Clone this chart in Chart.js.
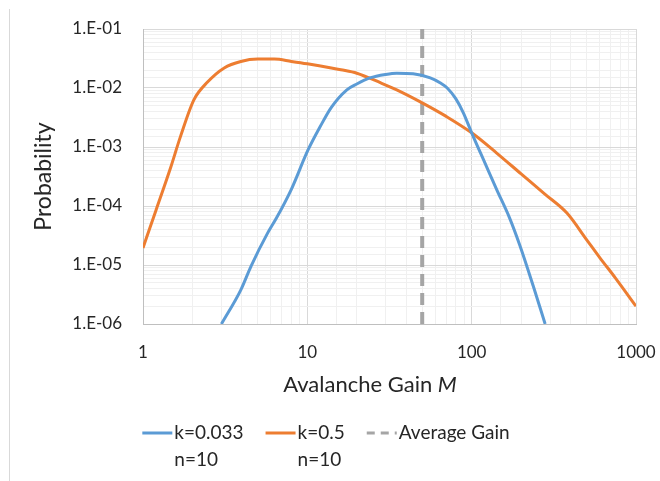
<!DOCTYPE html>
<html>
<head>
<meta charset="utf-8">
<script src="https://cdn.jsdelivr.net/npm/chart.js@4"></script>
<style>
  html, body { margin: 0; padding: 0; background: #fff; }
  #wrap { position: relative; width: 660px; height: 481px; }
  #wrap:before { content: ''; position: absolute; left: 9px; top: 9px; bottom: 0; width: 1px; background: #d9d9d9; }
</style>
</head>
<body>
<div id="wrap"><canvas id="chart" width="660" height="481"></canvas></div>
<script>
// k=0.033, n=10
const gainA = [3.0, 3.94, 4.54, 5.74, 6.5, 7.98, 10.1, 12, 14, 17.4, 20, 24, 30, 35, 44, 56, 65, 71, 80, 89, 100, 120, 142, 170, 197, 237, 280];
const probA = [1.0e-6, 3.8e-6, 9.5e-6, 3.5e-5, 6.3e-5, 1.9e-4, 8.9e-4, 2.24e-3, 4.7e-3, 9.3e-3, 1.17e-2, 1.48e-2, 1.70e-2, 1.78e-2, 1.74e-2, 1.48e-2, 1.20e-2, 1.0e-2, 6.6e-3, 3.8e-3, 1.74e-3, 5.5e-4, 1.9e-4, 6.3e-5, 2.1e-5, 4.4e-6, 1.0e-6];

// k=0.5, n=10
const gainB = [1, 1.2, 1.47, 1.69, 2.04, 2.47, 3.12, 3.94, 5.0, 6.3, 8.0, 10, 14, 16, 20, 28, 35, 50, 70, 100, 142, 200, 280, 380, 500, 600, 750, 1000];
const probB = [1.95e-5, 8.5e-5, 4.4e-4, 1.5e-3, 6.3e-3, 1.26e-2, 2.19e-2, 2.82e-2, 3.09e-2, 3.09e-2, 2.82e-2, 2.57e-2, 2.19e-2, 2.04e-2, 1.78e-2, 1.22e-2, 9.3e-3, 5.6e-3, 3.3e-3, 1.74e-3, 7.9e-4, 3.5e-4, 1.58e-4, 7.6e-5, 2.7e-5, 1.35e-5, 6.0e-6, 2.0e-6];

// average gain marker
const avgGain = 50;

const xRange = [1, 1000];
const yRange = [1e-6, 1e-1];

const legendLabels = [['k=0.033', 'n=10'], ['k=0.5', 'n=10'], ['Average Gain']];

const blue = '#5B9BD5';
const orange = '#ED7D31';
const gray = '#A5A5A5';
const textColor = '#262626';
const fontName = 'Lato, "Open Sans", sans-serif';

function pts(xs, ys) {
    return xs.map((x, i) => ({ x: x, y: ys[i] }));
}

function isDecade(v) {
    const l = Math.log10(v);
    return Math.abs(l - Math.round(l)) < 1e-6;
}

function gridColor(c) {
    if (!c.tick) return '#f0f0f0';
    return isDecade(c.tick.value) ? '#d9d9d9' : '#f0f0f0';
}

// x title (with italic M) and the two-line legend
const extras = {
    id: 'extras',
    afterDraw(chart) {
        const ctx = chart.ctx;
        ctx.save();
        ctx.fillStyle = textColor;
        ctx.textBaseline = 'middle';

        // axis title
        const normal = '22px ' + fontName;
        const italic = 'italic 22px ' + fontName;
        ctx.font = normal;
        const w1 = ctx.measureText('Avalanche Gain ').width;
        ctx.font = italic;
        const w2 = ctx.measureText('M').width;
        let tx = 370 - (w1 + w2) / 2;
        ctx.textAlign = 'left';
        ctx.font = normal;
        ctx.fillText('Avalanche Gain ', tx, 385);
        ctx.font = italic;
        ctx.fillText('M', tx + w1, 385);

        // legend
        ctx.font = '19px ' + fontName;
        const sample = 30, gap = 2, space = 22;
        const styles = [
            { color: blue, dash: [] },
            { color: orange, dash: [] },
            { color: gray, dash: [8, 6] }
        ];
        const widths = legendLabels.map(lines => Math.max(...lines.map(t => ctx.measureText(t).width)));
        let total = 0;
        widths.forEach((w, i) => { total += sample + gap + w + (i < widths.length - 1 ? space : 0); });
        let x = 326 - total / 2;
        const row1 = 433, rowH = 27;
        legendLabels.forEach((lines, i) => {
            ctx.strokeStyle = styles[i].color;
            ctx.lineWidth = 3;
            ctx.setLineDash(styles[i].dash);
            ctx.beginPath();
            ctx.moveTo(x, row1);
            ctx.lineTo(x + sample, row1);
            ctx.stroke();
            ctx.setLineDash([]);
            lines.forEach((t, j) => ctx.fillText(t, x + sample + gap, row1 + j * rowH));
            x += sample + gap + widths[i] + space;
        });
        ctx.restore();
    }
};

new Chart(document.getElementById('chart'), {
    type: 'scatter',
    data: {
        datasets: [
            {
                label: 'k=0.033 n=10',
                data: pts(gainA, probA),
                borderColor: blue,
                borderWidth: 3,
                showLine: true,
                pointRadius: 0,
                cubicInterpolationMode: 'monotone'
            },
            {
                label: 'k=0.5 n=10',
                data: pts(gainB, probB),
                borderColor: orange,
                borderWidth: 3,
                showLine: true,
                pointRadius: 0,
                cubicInterpolationMode: 'monotone'
            },
            {
                label: 'Average Gain',
                data: pts([avgGain, avgGain], yRange),
                borderColor: gray,
                borderWidth: 4,
                borderDash: [12, 7],
                showLine: true,
                pointRadius: 0
            }
        ]
    },
    options: {
        responsive: false,
        animation: false,
        layout: { padding: { left: 0, right: 24, top: 29, bottom: 0 } },
        plugins: {
            legend: { display: false },
            tooltip: { enabled: false }
        },
        scales: {
            x: {
                type: 'logarithmic',
                min: xRange[0],
                max: xRange[1],
                afterFit: s => { s.height = 157; s.paddingLeft = 0; s.paddingRight = 0; },
                border: { color: '#bfbfbf' },
                grid: { color: gridColor, drawTicks: false },
                ticks: {
                    autoSkip: false,
                    maxRotation: 0,
                    padding: 18,
                    color: textColor,
                    font: { family: fontName, size: 17 },
                    callback: v => isDecade(v) ? String(Math.round(v)) : ''
                }
            },
            y: {
                type: 'logarithmic',
                min: yRange[0],
                max: yRange[1],
                afterFit: s => { s.width = 143; s.paddingTop = 0; s.paddingBottom = 0; },
                border: { color: '#bfbfbf' },
                grid: { color: gridColor, drawTicks: false },
                title: {
                    display: true,
                    text: 'Probability',
                    color: textColor,
                    font: { family: fontName, size: 23 },
                    padding: { top: 30 }
                },
                ticks: {
                    autoSkip: false,
                    padding: 21,
                    color: textColor,
                    font: { family: fontName, size: 17 },
                    callback: v => {
                        if (!isDecade(v)) return '';
                        const e = Math.round(Math.log10(v));
                        return '1.E-' + String(-e).padStart(2, '0');
                    }
                }
            }
        }
    },
    plugins: [extras]
});
</script>
</body>
</html>
